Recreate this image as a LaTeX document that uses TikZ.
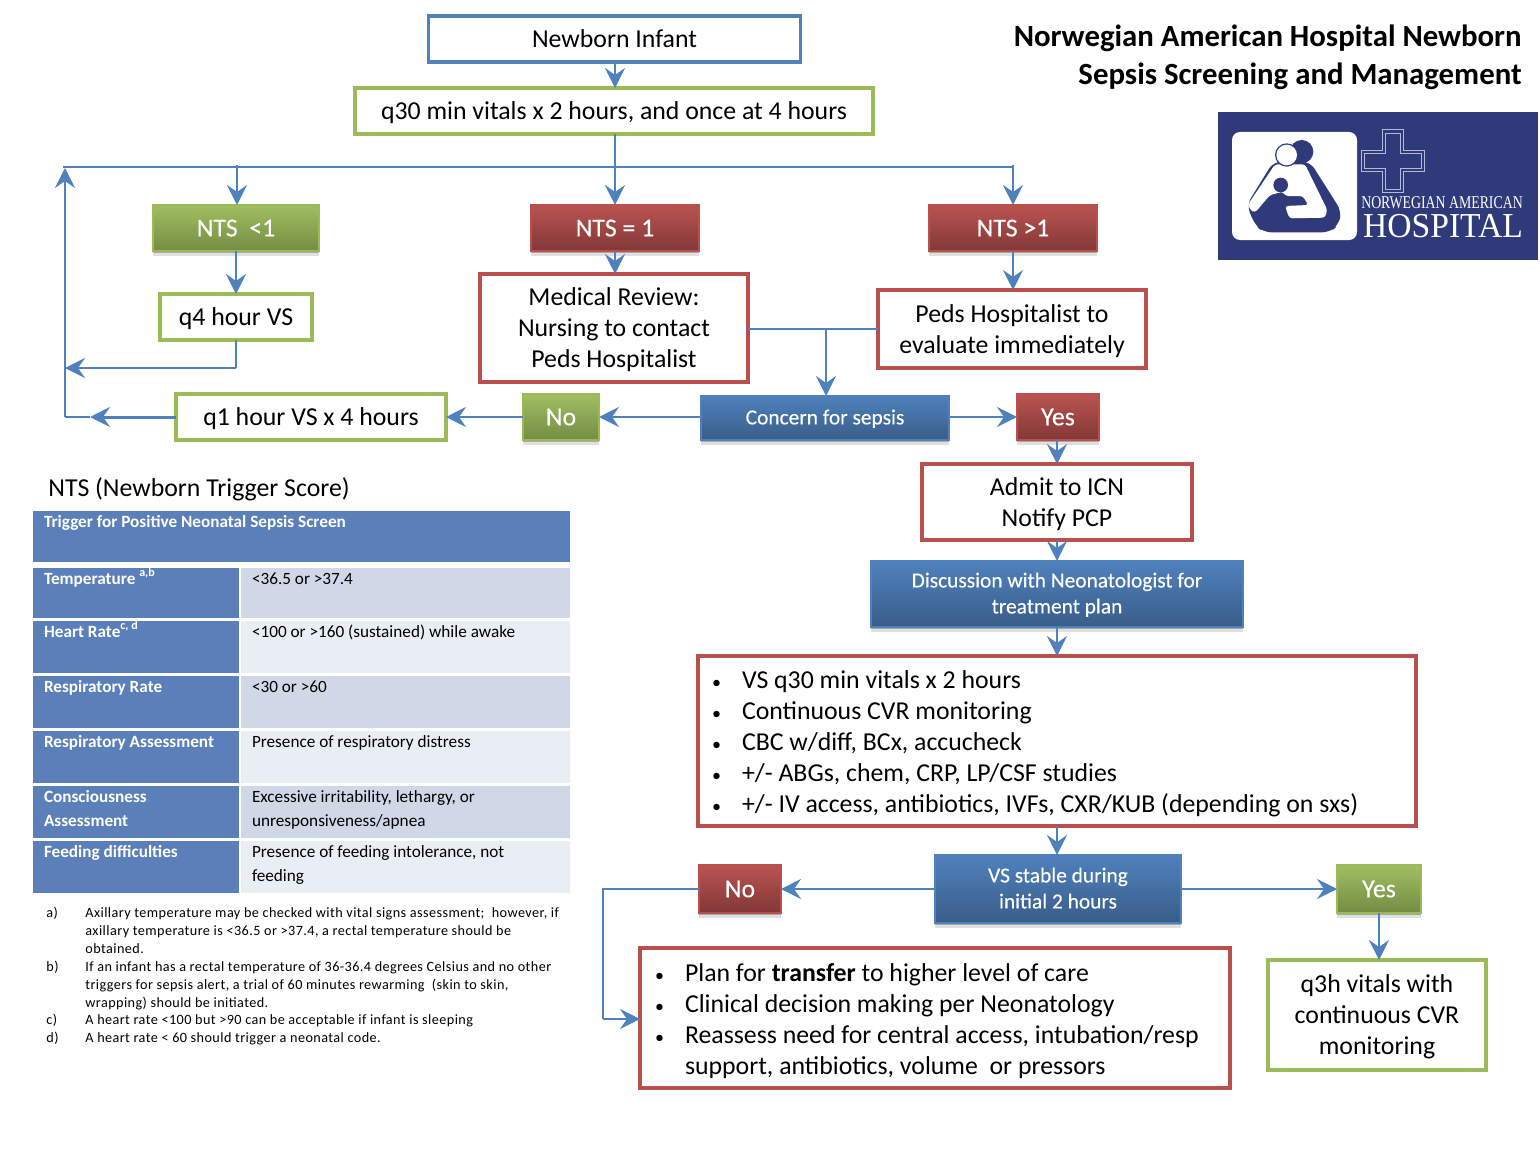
\documentclass[tikz,border=0pt]{standalone}
\usepackage{fontspec}
\setmainfont{Carlito}
\newfontfamily\logofont{Liberation Serif}
\usetikzlibrary{arrows.meta,shadows}
\definecolor{arrowblue}{HTML}{4F81BD}
\definecolor{boxgreen}{HTML}{9BBB59}
\definecolor{boxred}{HTML}{B9504E}
\definecolor{boxblue}{HTML}{4F81BD}
\definecolor{headblue}{HTML}{5B80B9}
\definecolor{rowdark}{HTML}{D0D8E8}
\definecolor{rowlight}{HTML}{E9EDF4}
\definecolor{logoblue}{HTML}{2F3A7B}
\tikzstyle{line} = [draw=arrowblue, line width=1pt, -{Stealth[length=10pt,width=10pt,inset=3.5pt]}]
\tikzstyle{plainline} = [draw=arrowblue, line width=1pt]
\tikzstyle{outline} = [draw, line width=1.75pt, fill=white, inner sep=0pt, outer sep=0pt, align=center, text depth=0pt, font=\fontsize{12.9}{15.5}\selectfont]
\tikzstyle{bluebox} = [outline, draw=boxblue]
\tikzstyle{greenbox} = [outline, draw=boxgreen]
\tikzstyle{redbox} = [outline, draw=boxred]
\tikzstyle{solid} = [draw, line width=0.75pt, inner sep=0pt, outer sep=0pt, align=center, text=white, text depth=0pt, font=\addfontfeature{FakeBold=0.25}\fontsize{12.9}{15.5}\selectfont, drop shadow={shadow xshift=0pt, shadow yshift=-2.5pt, opacity=.12, fill=black}, drop shadow={shadow xshift=0pt, shadow yshift=-1.2pt, opacity=.25, fill=black}]
\tikzstyle{greensolid} = [solid, draw=boxgreen, top color=boxgreen!95!white, bottom color=boxgreen!75!black]
\tikzstyle{redsolid} = [solid, draw=boxred, top color=boxred!98!white, bottom color=boxred!70!black]
\tikzstyle{bluesolid} = [solid, draw=boxblue, top color=boxblue, bottom color=boxblue!72!black, text depth=1pt, font=\addfontfeature{FakeBold=0.25}\fontsize{10.7}{13}\selectfont]
\tikzstyle{listbox} = [redbox, align=flush left, text depth=]
\tikzstyle{cell} = [anchor=north west, inner xsep=5.5pt, inner ysep=2pt, outer sep=0pt, align=flush left, text height=6pt, text depth=15pt, font=\fontsize{8.6}{12}\selectfont]
\tikzstyle{labelcell} = [cell, fill=headblue, text=white, text width=92pt, font=\fontsize{8.6}{12}\selectfont\bfseries]
\tikzstyle{darkcell} = [cell, fill=rowdark, text width=153.5pt]
\tikzstyle{lightcell} = [cell, fill=rowlight, text width=153.5pt]
\tikzstyle{footnote} = [anchor=north west, inner sep=0pt, align=flush left, font=\addfontfeature{LetterSpace=3}\fontsize{7.1}{9}\selectfont]
\newcommand{\bul}{\makebox[15pt][l]{\fontsize{9}{9}\selectfont\textbullet}}
\begin{document}
\begin{tikzpicture}[x=0.5pt, y=-0.5pt]
    \useasboundingbox (0,0) rectangle (1540,1150);
    \node (newborn) at (614.5,39) [bluebox, minimum width=186pt, minimum height=23pt] {Newborn Infant};
    \node (qthirty) at (614,111) [greenbox, minimum width=259pt, minimum height=23pt] {q30 min vitals x 2 hours, and once at 4 hours};
    \node (ntslow) at (236,228) [greensolid, minimum width=83pt, minimum height=23pt] {NTS\ \ <1};
    \node (ntsone) at (615,228) [redsolid, minimum width=84pt, minimum height=23pt] {NTS = 1};
    \node (ntshigh) at (1013,228) [redsolid, minimum width=84pt, minimum height=23pt] {NTS >1};
    \node (qfour) at (236,317) [greenbox, minimum width=76pt, minimum height=23pt] {q4 hour VS};
    \node (review) at (614,328) [redbox, minimum width=134pt, minimum height=54pt] {Medical Review:\\Nursing to contact\\Peds Hospitalist};
    \node (pedseval) at (1012,329) [redbox, minimum width=134pt, minimum height=39pt] {Peds Hospitalist to\\evaluate immediately};
    \node (qone) at (311,417) [greenbox, minimum width=135pt, minimum height=23pt] {q1 hour VS x 4 hours};
    \node (nofirst) at (561,417) [greensolid, minimum width=38pt, minimum height=23pt] {No};
    \node (concern) at (825,418) [bluesolid, minimum width=124pt, minimum height=22pt] {Concern for sepsis};
    \node (yesfirst) at (1058,417) [redsolid, minimum width=41pt, minimum height=23pt] {Yes};
    \node (admit) at (1057,502) [redbox, minimum width=135pt, minimum height=38pt] {Admit to ICN\\Notify PCP};
    \node (discuss) at (1057,594) [bluesolid, minimum width=186pt, minimum height=33pt] {Discussion with Neonatologist for\\treatment plan};
    \node (vslist) at (1057,741) [listbox, minimum width=359pt, minimum height=85pt, text width=345pt, text height=11.3pt] {\bul VS q30 min vitals x 2 hours\\\bul Continuous CVR monitoring\\\bul CBC w/diff, BCx, accucheck\\\bul +/- ABGs, chem, CRP, LP/CSF studies\\\bul +/- IV access, antibiotics, IVFs, CXR/KUB (depending on sxs)};
    \node (vsstable) at (1058,889) [bluesolid, minimum width=123pt, minimum height=34pt] {VS stable during\\initial 2 hours};
    \node (nosecond) at (740,889) [redsolid, minimum width=41pt, minimum height=24pt] {No};
    \node (yessecond) at (1379,889) [greensolid, minimum width=42pt, minimum height=24pt] {Yes};
    \node (transfer) at (935,1018) [listbox, minimum width=295pt, minimum height=70pt, text width=280pt, text height=12.5pt] {\bul Plan for \textbf{transfer} to higher level of care\\\bul Clinical decision making per Neonatology\\\bul Reassess need for central access, intubation/resp\\\makebox[15pt]{}support, antibiotics, volume\ \ or pressors};
    \node (qthree) at (1377,1015) [greenbox, minimum width=109pt, minimum height=55pt] {q3h vitals with\\continuous CVR\\monitoring};
    \node (title) at (1522,57) [anchor=east, inner sep=0pt, align=flush right, font=\fontsize{15.4}{19}\selectfont\bfseries] {Norwegian American Hospital Newborn\\Sepsis Screening and Management};
    \node (ntsheading) at (48,487) [anchor=west, inner sep=0pt, text depth=0pt, font=\fontsize{12.9}{15.5}\selectfont] {NTS (Newborn Trigger Score)};
    \coordinate (barleft) at (63,167);
    \coordinate (barlow) at (237,165);
    \coordinate (barmid) at (615,167);
    \coordinate (barhigh) at (1013,165);
    \coordinate (barright) at (1013,167);
    \coordinate (qfourcorner) at (236,368);
    \coordinate (returnlow) at (65,368);
    \coordinate (returnmid) at (90,417);
    \coordinate (returncorner) at (65,417);
    \coordinate (returntop) at (65,168);
    \coordinate (sepsisjoin) at (826,329);
    \coordinate (nocornertop) at (603,889);
    \coordinate (nocornerlow) at (603,1019);
    \path [line] (barmid |- newborn.south) -- (barmid |- qthirty.north);
    \path [line] (barmid |- qthirty.south) -- (ntsone.north);
    \path [plainline] (barleft) -- (barright);
    \path [line] (barlow) -- (barlow |- ntslow.north);
    \path [line] (barhigh) -- (barhigh |- ntshigh.north);
    \path [line] (ntslow.south) -- (qfour.north);
    \path [line] (ntsone.south) -- (ntsone.south |- review.north);
    \path [line] (ntshigh.south) -- (ntshigh.south |- pedseval.north);
    \path [plainline] (qfour.south) -- (qfourcorner);
    \path [line] (qfourcorner) -- (returnlow);
    \path [line, line width=1.5pt] (qone.west) -- (returnmid);
    \path [plainline] (returnmid) -- (returncorner);
    \path [line] (returncorner) -- (returntop);
    \path [plainline] (review.east |- sepsisjoin) -- (pedseval.west |- sepsisjoin);
    \path [line] (sepsisjoin) -- (sepsisjoin |- concern.north);
    \path [line] (concern.west |- nofirst.east) -- (nofirst.east);
    \path [line] (nofirst.west) -- (qone.east);
    \path [line] (concern.east |- yesfirst.west) -- (yesfirst.west);
    \path [line] (admit.north |- yesfirst.south) -- (admit.north);
    \path [line] (admit.south) -- (discuss.north);
    \path [line] (discuss.south) -- (vslist.north);
    \path [line] (vslist.south) -- (vslist.south |- vsstable.north);
    \path [line] (vsstable.west) -- (nosecond.east);
    \path [line] (vsstable.east) -- (yessecond.west);
    \path [line] (yessecond.south) -- (yessecond.south |- qthree.north);
    \path [plainline] (nosecond.west) -- (nocornertop) -- (nocornerlow);
    \path [line] (nocornerlow) -- (transfer.west |- nocornerlow);
    \node (triggerhead) at (33,511) [labelcell, text width=257.5pt, text depth=15.5pt] {Trigger for Positive Neonatal Sepsis Screen};
    \node (templabel) at (33,568) [labelcell] {Temperature \textsuperscript{a,b}};
    \node (tempvalue) at (241,568) [darkcell] {<36.5 or >37.4};
    \node (heartlabel) at (33,621) [labelcell, text depth=16pt] {Heart Rate\textsuperscript{c, d}};
    \node (heartvalue) at (241,621) [lightcell, text depth=16pt] {<100 or >160 (sustained) while awake};
    \node (resplabel) at (33,676) [labelcell, text depth=16pt] {Respiratory Rate};
    \node (respvalue) at (241,676) [darkcell, text depth=16pt] {<30 or >60};
    \node (assesslabel) at (33,731) [labelcell, text depth=16pt] {Respiratory Assessment};
    \node (assessvalue) at (241,731) [lightcell, text depth=16pt] {Presence of respiratory distress};
    \node (conslabel) at (33,786) [labelcell, text depth=16pt] {Consciousness\\Assessment};
    \node (consvalue) at (241,786) [darkcell, text depth=16pt] {Excessive irritability, lethargy, or\\unresponsiveness/apnea};
    \node (feedlabel) at (33,841) [labelcell, text depth=16pt] {Feeding difficulties};
    \node (feedvalue) at (241,841) [lightcell, text depth=16pt] {Presence of feeding intolerance, not\\feeding};
    \node (notea) at (46,907) [footnote] {a)};
    \node (noteatext) at (85,907) [footnote] {Axillary temperature may be checked with vital signs assessment;\ \ however, if\\axillary temperature is <36.5 or >37.4, a rectal temperature should be\\obtained.};
    \node (noteb) at (46,961) [footnote] {b)};
    \node (notebtext) at (85,961) [footnote] {If an infant has a rectal temperature of 36-36.4 degrees Celsius and no other\\triggers for sepsis alert, a trial of 60 minutes rewarming\ \ (skin to skin,\\wrapping) should be initiated.};
    \node (notec) at (46,1014) [footnote] {c)};
    \node (notectext) at (85,1014) [footnote] {A heart rate <100 but >90 can be acceptable if infant is sleeping};
    \node (noted) at (46,1032) [footnote] {d)};
    \node (notedtext) at (85,1032) [footnote] {A heart rate < 60 should trigger a neonatal code.};
    \fill [logoblue] (1218,112) rectangle (1538,260);
    \begin{scope}[shift={(1230,130)}, x=0.16667pt, y=-0.16667pt]
        \fill [white, rounded corners=4pt] (6,6) rectangle (381,330);
        \fill [logoblue] (215,65) circle (35);
        \fill [logoblue, rounded corners=4pt] (130,95) -- (240,95) -- (335,245) -- (325,285) -- (300,307) -- (100,307) -- (75,285) -- (50,225) -- cycle;
        \fill [white, rounded corners=1.5pt] (135,103) -- (225,103) -- (292,240) -- (285,263) -- (178,265) -- (165,228) -- (235,225) -- (218,198) -- (165,198) -- (160,185) -- (120,195) -- (75,248) -- (60,240) -- (55,222) -- cycle;
        \fill [logoblue] (170,75) circle (35);
        \fill [white] (170,75) circle (31);
        \fill [logoblue] (152,165) circle (22);
    \end{scope}
    \begin{scope}[shift={(1200,100)}, x=0.16667pt, y=-0.16667pt]
        \draw [white!65!logoblue, line width=0.5pt] (548,90) -- (610,90) -- (610,152) -- (673,152) -- (673,213) -- (610,213) -- (610,278) -- (548,278) -- (548,213) -- (483,213) -- (483,152) -- (548,152) -- cycle;
        \draw [white!65!logoblue, line width=0.4pt] (557,99) -- (601,99) -- (601,161) -- (664,161) -- (664,204) -- (601,204) -- (601,269) -- (557,269) -- (557,204) -- (492,204) -- (492,161) -- (557,161) -- cycle;
    \end{scope}
    \node (logoname) at (1442,203) [inner sep=0pt, text=white, xscale=0.767, font=\logofont\fontsize{9}{11}\selectfont] {NORWEGIAN AMERICAN};
    \node (logohospital) at (1443,226) [inner sep=0pt, text=white, xscale=0.96, font=\logofont\fontsize{17.5}{20}\selectfont] {HOSPITAL};
\end{tikzpicture}
\end{document}
